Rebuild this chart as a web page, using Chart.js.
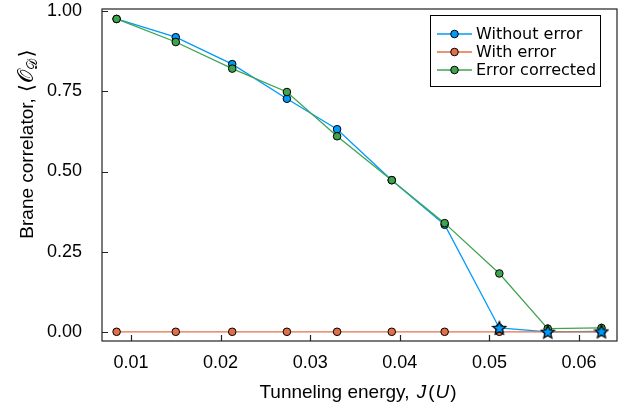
<!DOCTYPE html>
<html>
<head>
<meta charset="utf-8">
<script src="https://cdn.jsdelivr.net/npm/chart.js@4.4.0/dist/chart.umd.min.js"></script>
<style>
  body { margin: 0; background: #fff; }
  #wrap { width: 628px; height: 409px; }
</style>
</head>
<body>
<div id="wrap"><canvas id="braneChart" width="628" height="409"></canvas></div>
<script>
// tunneling energies J/U
const energies = [0.0084, 0.0150, 0.0213, 0.0274, 0.0330, 0.0391, 0.0450, 0.0511, 0.0565, 0.0625];
const withoutError = [0.976, 0.919, 0.835, 0.727, 0.632, 0.473, 0.334, 0.012, 0.000, 0.001];
const withError = [0.000, 0.000, 0.000, 0.000, 0.000, 0.000, 0.000, 0.000, 0.000, 0.000];
const errorCorrected = [0.976, 0.904, 0.821, 0.748, 0.610, 0.473, 0.339, 0.182, 0.010, 0.012];
// points of "Without error" marked with a star
const starIdx = [7, 8, 9];
const xTicks = [0.01, 0.02, 0.03, 0.04, 0.05, 0.06];
const yTicks = [0, 0.25, 0.5, 0.75, 1.0];
const seriesNames = ['Without error', 'With error', 'Error corrected'];
const colors = ['#009AFA', '#E36F47', '#3EA44E'];

function pts(ys) {
  return energies.map((x, i) => ({ x: x, y: ys[i] }));
}

// filled 5-point star marker
function makeStar(size, fill) {
  const c = document.createElement('canvas');
  c.width = size; c.height = size;
  const g = c.getContext('2d');
  const cx = size / 2, cy = size / 2 + 0.6, ro = size / 2 - 1, ri = ro * 0.45;
  g.beginPath();
  for (let k = 0; k < 10; k++) {
    const r = k % 2 ? ri : ro;
    const a = -Math.PI / 2 + k * Math.PI / 5;
    g.lineTo(cx + r * Math.cos(a), cy + r * Math.sin(a));
  }
  g.closePath();
  g.fillStyle = fill;
  g.fill();
  g.lineWidth = 1.2;
  g.strokeStyle = '#000';
  g.stroke();
  return c;
}
const starImg = makeStar(16, colors[0]);

const tickFont = { family: 'Liberation Sans, Arial, sans-serif', size: 18 };

// frame, inner ticks, axis titles and legend box
const decor = {
  id: 'decor',
  afterDatasetsDraw(chart) {
    const ctx = chart.ctx;
    const a = chart.chartArea;
    const xs = chart.scales.x, ys = chart.scales.y;
    ctx.save();
    ctx.strokeStyle = '#222';
    ctx.lineWidth = 1.2;
    ctx.strokeRect(a.left, a.top, a.right - a.left, a.bottom - a.top);
    ctx.beginPath();
    xTicks.forEach(v => {
      const px = Math.round(xs.getPixelForValue(v)) + 0.5;
      ctx.moveTo(px, a.bottom); ctx.lineTo(px, a.bottom - 6);
    });
    yTicks.forEach(v => {
      const py = Math.round(ys.getPixelForValue(v)) + 0.5;
      ctx.moveTo(a.left, py); ctx.lineTo(a.left + 6, py);
    });
    ctx.stroke();

    // legend
    const lx = 430.5, ly = 15.5, lw = 170, lh = 71;
    ctx.fillStyle = '#fff';
    ctx.fillRect(lx, ly, lw, lh);
    ctx.strokeStyle = '#000';
    ctx.lineWidth = 1;
    ctx.strokeRect(lx, ly, lw, lh);
    ctx.font = '16px "DejaVu Sans", sans-serif';
    ctx.textBaseline = 'middle';
    ctx.textAlign = 'left';
    seriesNames.forEach((name, i) => {
      const y = 34 + i * 18;
      ctx.strokeStyle = colors[i];
      ctx.lineWidth = 1.3;
      ctx.beginPath(); ctx.moveTo(437, y); ctx.lineTo(472, y); ctx.stroke();
      ctx.beginPath(); ctx.arc(454.5, y, 3.8, 0, Math.PI * 2);
      ctx.fillStyle = colors[i]; ctx.fill();
      ctx.strokeStyle = '#000'; ctx.lineWidth = 1; ctx.stroke();
      ctx.fillStyle = '#000';
      ctx.fillText(name, 476, y + 1);
    });

    // x title: Tunneling energy, J(U)
    const sans = '19px "Liberation Sans", Arial, sans-serif';
    const ital = 'italic 19px "Liberation Sans", Arial, sans-serif';
    const xParts = [['Tunneling energy, ', sans, 2], ['J', ital, 2], ['(', sans, 1], ['U', ital, 1], [')', sans, 0]];
    let tw = 0;
    xParts.forEach(p => { ctx.font = p[1]; tw += ctx.measureText(p[0]).width + p[2]; });
    let cx = 358 - tw / 2;
    ctx.fillStyle = '#000';
    ctx.textBaseline = 'alphabetic';
    xParts.forEach(p => {
      ctx.font = p[1];
      ctx.fillText(p[0], cx, 398);
      cx += ctx.measureText(p[0]).width + p[2];
    });

    // y title: Brane correlator, <O_D>
    const script = '21px "DejaVu Serif", "Noto Sans", serif';
    const sub = '14px "DejaVu Serif", "Noto Sans", serif';
    const brk = '20px "DejaVu Sans", sans-serif';
    const yParts = [['Brane correlator, ', sans, 1, 0], ['\u27E8', brk, 1, 0],
      ['\uD835\uDCAA', script, 0, 0], ['\uD835\uDC9F', sub, 2, 4], ['\u27E9', brk, 0, 0]];
    tw = 0;
    yParts.forEach(p => { ctx.font = p[1]; tw += ctx.measureText(p[0]).width + p[2]; });
    ctx.translate(33, 144);
    ctx.rotate(-Math.PI / 2);
    cx = -tw / 2;
    yParts.forEach(p => {
      ctx.font = p[1];
      ctx.fillText(p[0], cx, p[3]);
      cx += ctx.measureText(p[0]).width + p[2];
    });
    ctx.restore();
  }
};

const ctx = document.getElementById('braneChart').getContext('2d');
const braneChart = new Chart(ctx, {
  type: 'line',
  data: {
    datasets: [
      {
        label: 'stars',
        data: energies.map((x, i) => starIdx.includes(i) ? { x: x, y: withoutError[i] } : { x: x, y: null }),
        showLine: false,
        pointStyle: starImg,
        pointRadius: 8,
        order: 0
      },
      {
        label: seriesNames[2],
        data: pts(errorCorrected),
        borderColor: colors[2],
        backgroundColor: colors[2],
        pointBackgroundColor: colors[2],
        pointBorderColor: '#000',
        order: 1
      },
      {
        label: seriesNames[1],
        data: pts(withError),
        borderColor: colors[1],
        backgroundColor: colors[1],
        pointBackgroundColor: colors[1],
        pointBorderColor: '#000',
        order: 2
      },
      {
        label: seriesNames[0],
        data: pts(withoutError),
        borderColor: colors[0],
        backgroundColor: colors[0],
        pointBackgroundColor: colors[0],
        pointBorderColor: '#000',
        order: 3
      }
    ]
  },
  options: {
    responsive: false,
    animation: false,
    events: [],
    layout: { padding: { left: 0, top: 5, right: 11, bottom: 0 } },
    elements: {
      line: { borderWidth: 1.3, tension: 0 },
      point: { radius: 3.8, borderWidth: 1 }
    },
    plugins: {
      legend: { display: false },
      tooltip: { enabled: false }
    },
    scales: {
      x: {
        type: 'linear',
        min: 0.00677,
        max: 0.06423,
        grid: { display: false },
        border: { display: false },
        afterBuildTicks: s => { s.ticks = xTicks.map(v => ({ value: v })); },
        afterFit: s => { s.height = 68; s.paddingLeft = 0; s.paddingRight = 0; },
        ticks: {
          color: '#000',
          font: tickFont,
          padding: 3,
          maxRotation: 0,
          callback: v => v.toFixed(2)
        }
      },
      y: {
        min: -0.0287,
        max: 1.007,
        grid: { display: false },
        border: { display: false },
        afterBuildTicks: s => { s.ticks = yTicks.map(v => ({ value: v })); },
        afterFit: s => { s.width = 102; s.paddingTop = 0; s.paddingBottom = 0; },
        ticks: {
          color: '#000',
          font: tickFont,
          padding: 12,
          callback: v => v.toFixed(2)
        }
      }
    }
  },
  plugins: [decor]
});
</script>
</body>
</html>
